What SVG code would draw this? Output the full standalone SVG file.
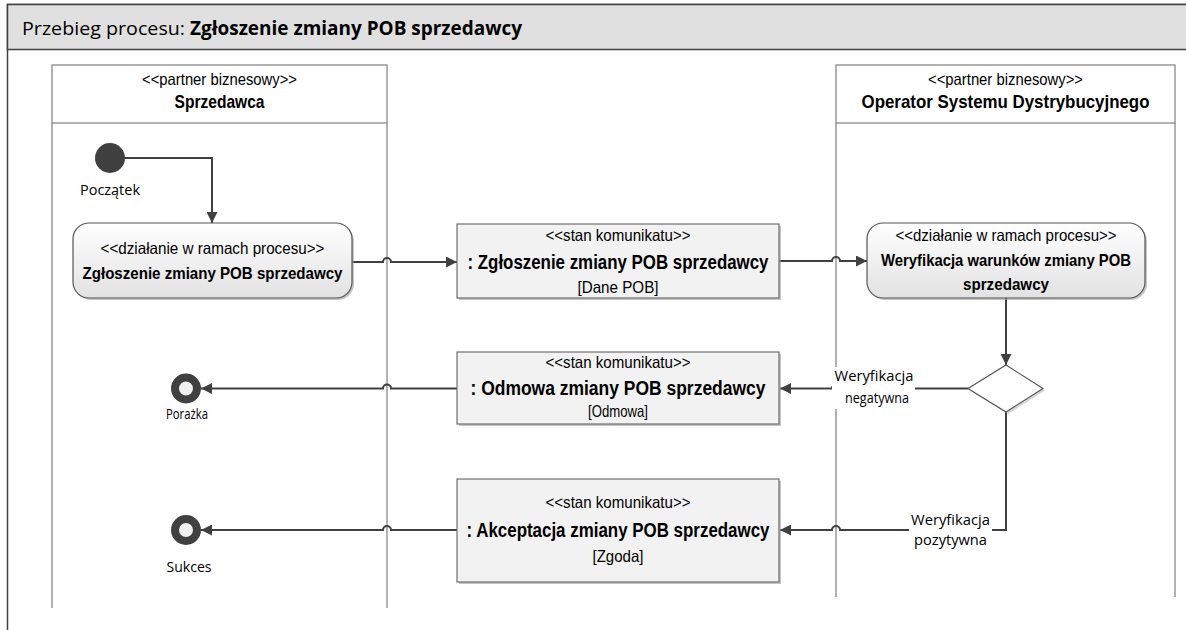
<svg xmlns="http://www.w3.org/2000/svg" width="1186" height="630" viewBox="0 0 1186 630">
<defs>
<linearGradient id="gAct" x1="0" y1="0" x2="0" y2="1">
<stop offset="0" stop-color="#ffffff"/>
<stop offset="1" stop-color="#e2e2e2"/>
</linearGradient>
<marker id="arr" viewBox="0 0 10 10" refX="10" refY="5" markerWidth="11" markerHeight="11" markerUnits="userSpaceOnUse" orient="auto">
<path d="M0,0 L10,5 L0,10 Z" fill="#404040"/>
</marker>
</defs>
<style>
.lane{fill:none;stroke:#7f7f7f;stroke-width:1.2}
.conn{fill:none;stroke:#404040;stroke-width:2}
.act{fill:url(#gAct);stroke:#555555;stroke-width:1.2}
.msg{fill:#f2f2f2;stroke:#6f6f6f;stroke-width:1.2}
.shadow{fill:#a0a0a0;opacity:0.6}
.t{font-family:"Liberation Sans",Arial,sans-serif;fill:#000;text-anchor:middle}
.st{font-size:16.5px}
.b{font-weight:bold;font-size:18.5px}
.ba{font-weight:bold;font-size:16.5px}
.bm{font-weight:bold;font-size:20px}
.lbl{font-family:"Open Sans","Noto Sans",sans-serif;font-size:14.5px;fill:#000;text-anchor:middle}
.lblbg{fill:#ffffff}
</style>

<g id="frame">
<rect x="7.5" y="4.5" width="1190" height="640" fill="#ffffff" stroke="#404040" stroke-width="1.5"/>
<rect x="7.5" y="4.5" width="1190" height="45" fill="#e0e0e0" stroke="#404040" stroke-width="1.5"/>
<text x="22" y="35" font-family="'Open Sans','Noto Sans',sans-serif" font-size="19px" fill="#000" textLength="163" lengthAdjust="spacingAndGlyphs">Przebieg procesu:</text>
<text x="190" y="35" font-family="'Open Sans','Noto Sans',sans-serif" font-size="19px" font-weight="bold" fill="#000" textLength="332" lengthAdjust="spacingAndGlyphs">Zgłoszenie zmiany POB sprzedawcy</text>
</g>

<g id="lane-sprzedawca">
<rect class="lane" x="52" y="65" width="335" height="58" fill="#ffffff"/>
<line class="lane" x1="52" y1="123" x2="52" y2="608"/>
<line class="lane" x1="387" y1="123" x2="387" y2="608"/>
<text class="t st" x="219.5" y="85" textLength="155" lengthAdjust="spacingAndGlyphs">&lt;&lt;partner biznesowy&gt;&gt;</text>
<text class="t b" x="219.5" y="108" textLength="90" lengthAdjust="spacingAndGlyphs">Sprzedawca</text>
</g>

<g id="lane-osd">
<rect class="lane" x="836" y="65" width="339" height="58" fill="#ffffff"/>
<line class="lane" x1="836" y1="123" x2="836" y2="597"/>
<line class="lane" x1="1175" y1="123" x2="1175" y2="597"/>
<text class="t st" x="1005.5" y="85" textLength="155" lengthAdjust="spacingAndGlyphs">&lt;&lt;partner biznesowy&gt;&gt;</text>
<text class="t b" x="1005.5" y="108" textLength="288" lengthAdjust="spacingAndGlyphs">Operator Systemu Dystrybucyjnego</text>
</g>

<g id="connectors">
<path class="conn" d="M124,158 H212 V223" marker-end="url(#arr)"/>
<path class="conn" d="M352,262 H383 A4,4 0 0 1 391,262 H457" marker-end="url(#arr)"/>
<path class="conn" d="M779,261 H832 A4,4 0 0 1 840,261 H867" marker-end="url(#arr)"/>
<path class="conn" d="M1006,298 V365" marker-end="url(#arr)"/>
<path class="conn" d="M968,388.5 H840 A4,4 0 0 0 832,388.5 H780" marker-end="url(#arr)"/>
<path class="conn" d="M1006,412 V530 H840 A4,4 0 0 0 832,530 H780" marker-end="url(#arr)"/>
<path class="conn" d="M457,388.5 H391 A4,4 0 0 0 383,388.5 H201" marker-end="url(#arr)"/>
<path class="conn" d="M457,530 H391 A4,4 0 0 0 383,530 H201" marker-end="url(#arr)"/>
<rect class="lblbg" x="832" y="367" width="83" height="42"/>
<text class="lbl" x="874" y="381" textLength="79" lengthAdjust="spacingAndGlyphs">Weryfikacja</text>
<text class="lbl" x="877" y="403" textLength="64" lengthAdjust="spacingAndGlyphs">negatywna</text>
<rect class="lblbg" x="909" y="509" width="83" height="42"/>
<text class="lbl" x="950.5" y="525" textLength="79" lengthAdjust="spacingAndGlyphs">Weryfikacja</text>
<text class="lbl" x="950.5" y="545" textLength="73" lengthAdjust="spacingAndGlyphs">pozytywna</text>
</g>

<g id="start">
<circle cx="110" cy="158" r="15" fill="#404040"/>
<text class="lbl" x="110" y="195" textLength="60" lengthAdjust="spacingAndGlyphs">Początek</text>
</g>

<g id="action-zgloszenie">
<rect class="shadow" x="75" y="225" width="279" height="75" rx="16"/>
<rect class="act" x="73" y="223" width="279" height="75" rx="16"/>
<text class="t st" x="212.5" y="254" textLength="224" lengthAdjust="spacingAndGlyphs">&lt;&lt;działanie w ramach procesu&gt;&gt;</text>
<text class="t ba" x="212.5" y="279" textLength="260" lengthAdjust="spacingAndGlyphs">Zgłoszenie zmiany POB sprzedawcy</text>
</g>

<g id="msg-zgloszenie">
<rect class="shadow" x="459" y="226" width="322" height="74"/>
<rect class="msg" x="457" y="224" width="322" height="74"/>
<text class="t st" x="618" y="241" textLength="145" lengthAdjust="spacingAndGlyphs">&lt;&lt;stan komunikatu&gt;&gt;</text>
<text class="t bm" x="618" y="269" textLength="301" lengthAdjust="spacingAndGlyphs">: Zgłoszenie zmiany POB sprzedawcy</text>
<text class="t st" x="618" y="293" textLength="81" lengthAdjust="spacingAndGlyphs">[Dane POB]</text>
</g>

<g id="action-weryfikacja">
<rect class="shadow" x="869" y="225" width="278" height="75" rx="16"/>
<rect class="act" x="867" y="223" width="278" height="75" rx="16"/>
<text class="t st" x="1006" y="241" textLength="221" lengthAdjust="spacingAndGlyphs">&lt;&lt;działanie w ramach procesu&gt;&gt;</text>
<text class="t ba" x="1006" y="266" textLength="250" lengthAdjust="spacingAndGlyphs">Weryfikacja warunków zmiany POB</text>
<text class="t ba" x="1006" y="290" textLength="86" lengthAdjust="spacingAndGlyphs">sprzedawcy</text>
</g>

<g id="decision">
<polygon points="1008,367 1045,390.5 1008,414 970,390.5" fill="#b0b0b0" opacity="0.5"/>
<polygon points="1006,365 1043,388.5 1006,412 968,388.5" fill="#ffffff" stroke="#555555" stroke-width="1.2"/>
</g>

<g id="msg-odmowa">
<rect class="shadow" x="459" y="354" width="322" height="72"/>
<rect class="msg" x="457" y="352" width="322" height="72"/>
<text class="t st" x="618" y="368" textLength="145" lengthAdjust="spacingAndGlyphs">&lt;&lt;stan komunikatu&gt;&gt;</text>
<text class="t bm" x="618" y="395" textLength="295" lengthAdjust="spacingAndGlyphs">: Odmowa zmiany POB sprzedawcy</text>
<text class="t st" x="618" y="417" textLength="60" lengthAdjust="spacingAndGlyphs">[Odmowa]</text>
</g>

<g id="msg-akceptacja">
<rect class="shadow" x="459" y="481" width="322" height="103"/>
<rect class="msg" x="457" y="479" width="322" height="103"/>
<text class="t st" x="618" y="508" textLength="145" lengthAdjust="spacingAndGlyphs">&lt;&lt;stan komunikatu&gt;&gt;</text>
<text class="t bm" x="618" y="537" textLength="303" lengthAdjust="spacingAndGlyphs">: Akceptacja zmiany POB sprzedawcy</text>
<text class="t st" x="618" y="562" textLength="51" lengthAdjust="spacingAndGlyphs">[Zgoda]</text>
</g>

<g id="end-porazka">
<circle cx="186" cy="388.5" r="11" fill="#f0f0f0" stroke="#404040" stroke-width="8"/>
<text class="lbl" x="187" y="419" textLength="42" lengthAdjust="spacingAndGlyphs">Porażka</text>
</g>

<g id="end-sukces">
<circle cx="186" cy="530" r="11" fill="#f0f0f0" stroke="#404040" stroke-width="8"/>
<text class="lbl" x="189" y="572" textLength="45" lengthAdjust="spacingAndGlyphs">Sukces</text>
</g>
</svg>
